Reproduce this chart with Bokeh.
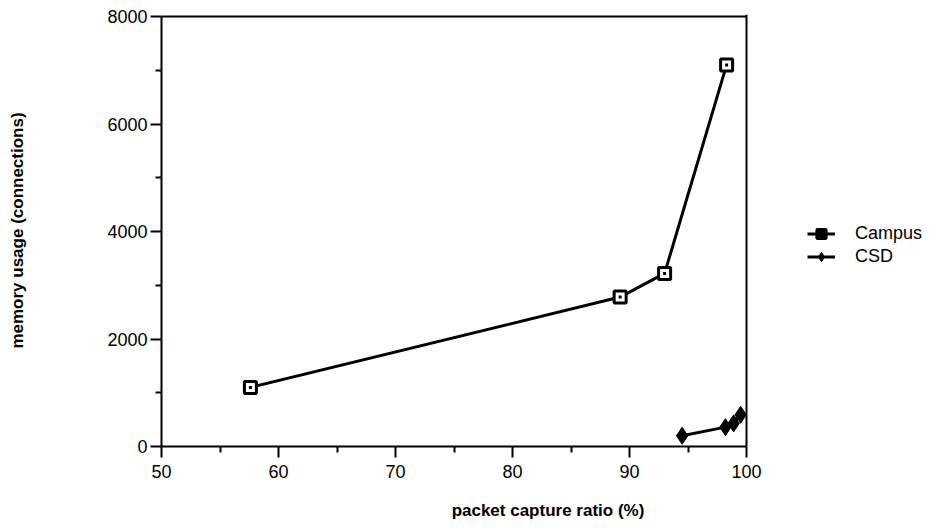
from bokeh.plotting import figure
from bokeh.models import Range1d, FixedTicker, Legend, LegendItem, Span
from bokeh.embed import file_html
from bokeh.resources import INLINE

campus_x = [57.6, 89.2, 93.0, 98.3]
campus_y = [1100, 2780, 3220, 7100]
csd_x = [94.5, 98.2, 98.9, 99.5]
csd_y = [200, 360, 430, 590]
x_ticks = [50, 60, 70, 80, 90, 100]
x_minor = [55, 65, 75, 85, 95]
y_ticks = [0, 2000, 4000, 6000, 8000]
y_minor = [1000, 3000, 5000, 7000]

FONT = "Liberation Sans"

W, H = 934, 524
LEFT, TOP = 161, 14
PLOT_W, PLOT_H = 585, 430       # pixel size of the 50..100 x 0..8000 box
frame_w = W - LEFT
frame_h = PLOT_H + 2
x0, x1 = x_ticks[0], x_ticks[-1]
y0, y1 = y_ticks[0], y_ticks[-1]
x_end = x0 + frame_w * (x1 - x0) / PLOT_W
y_end = y1 + 2 * (y1 - y0) / PLOT_H

p = figure(width=W, height=H, output_backend="svg", toolbar_location=None,
           x_range=Range1d(x0, x_end), y_range=Range1d(y0, y_end),
           min_border_left=LEFT, min_border_right=0, min_border_top=TOP,
           min_border_bottom=H - TOP - frame_h)
p.xgrid.visible = False
p.ygrid.visible = False
p.outline_line_color = None

for ax in (p.xaxis[0], p.yaxis[0]):
    ax.axis_line_width = 2
    ax.axis_line_color = "black"
    ax.major_tick_line_width = 2
    ax.minor_tick_line_width = 2
    ax.major_tick_line_color = "black"
    ax.minor_tick_line_color = "black"
    ax.major_tick_in = 0
    ax.minor_tick_in = 0
    ax.major_tick_out = 11
    ax.minor_tick_out = 6
    ax.major_label_text_font = FONT
    ax.major_label_text_font_size = "18px"
    ax.major_label_text_color = "black"
    ax.axis_label_text_font = FONT
    ax.axis_label_text_font_size = "17px"
    ax.axis_label_text_font_style = "bold"
    ax.axis_label_text_color = "black"

p.xaxis[0].bounds = (x0, x1)
p.yaxis[0].bounds = (y0, y1)
p.xaxis[0].ticker = FixedTicker(ticks=x_ticks, minor_ticks=x_minor)
p.yaxis[0].ticker = FixedTicker(ticks=y_ticks, minor_ticks=y_minor)
p.xaxis[0].major_label_standoff = 7
p.yaxis[0].major_label_standoff = 3
p.xaxis[0].axis_label = "packet capture ratio (%)"
p.yaxis[0].axis_label = "memory usage (connections)"
p.xaxis[0].axis_label_standoff = 20
p.yaxis[0].axis_label_standoff = 77

# right and top border of the plot box
p.add_layout(Span(location=x1, dimension="height", line_color="black", line_width=2))
p.segment(x0=[x0], y0=[y1], x1=[x1], y1=[y1], line_color="black", line_width=2)

l1 = p.line(campus_x, campus_y, line_color="black", line_width=3)
s1 = p.scatter(campus_x, campus_y, marker="square", size=12, fill_color="white",
               line_color="black", line_width=3)
d1 = p.scatter(campus_x, campus_y, marker="square", size=3, fill_color="black",
               line_color="black", line_width=0)

l2 = p.line(csd_x, csd_y, line_color="black", line_width=3)
s2 = p.scatter(csd_x, csd_y, marker="diamond", size=17, fill_color="black",
               line_color="black", line_width=1)

legend = Legend(items=[LegendItem(label="Campus", renderers=[l1, s1, d1]),
                       LegendItem(label="CSD", renderers=[l2, s2])],
                location=(646, 178))
legend.border_line_color = None
legend.background_fill_alpha = 0
legend.padding = 0
legend.margin = 0
legend.spacing = 0
legend.glyph_height = 23
legend.label_height = 23
legend.glyph_width = 28
legend.label_standoff = 20
legend.label_text_font = FONT
legend.label_text_font_size = "18px"
legend.label_text_color = "black"
p.add_layout(legend, "center")

open("out.html", "w").write(file_html(p, INLINE))
